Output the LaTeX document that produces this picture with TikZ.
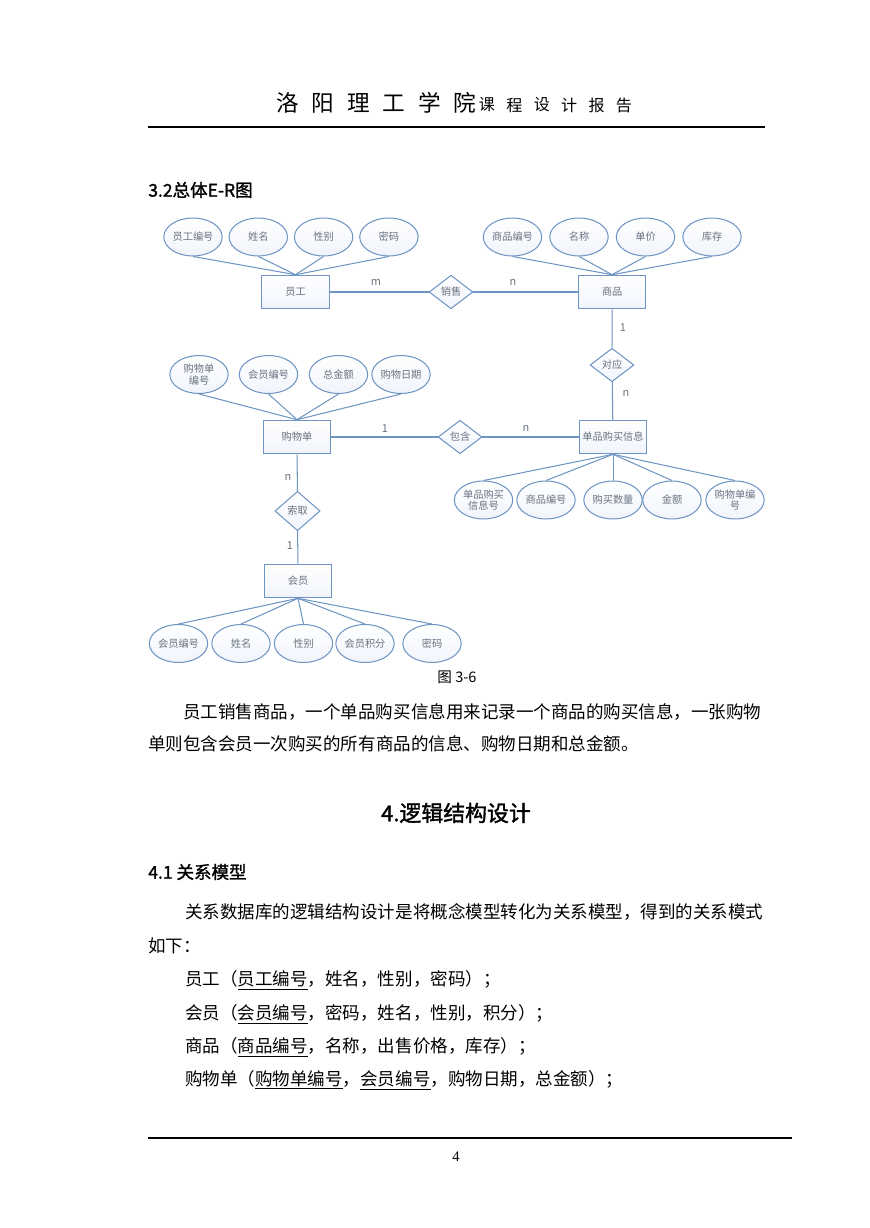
\documentclass[tikz,border=0pt]{standalone}
\usepackage{fontspec}
\setmainfont{Noto Sans CJK SC}
\newfontfamily\boldcjk{Noto Sans CJK SC}[FakeBold=1.5]
\newfontfamily\numfont{Liberation Serif}
\usetikzlibrary{shapes.geometric}
\definecolor{erline}{RGB}{110,148,196}
\definecolor{erfill}{RGB}{240,244,251}
\definecolor{ertext}{RGB}{105,115,130}
\tikzset{
  erfont/.style={text=ertext,font=\fontsize{7}{8}\selectfont},
  entity/.style={draw=erline,line width=.7pt,top color=white,bottom color=erfill,
    minimum width=46pt,minimum height=23pt,inner sep=0pt,erfont},
  attr/.style={ellipse,draw=erline,line width=.7pt,top color=white,bottom color=erfill,
    minimum width=40pt,minimum height=26pt,inner sep=0pt,align=center,erfont},
  rel/.style={diamond,draw=erline,line width=.7pt,top color=white,bottom color=erfill,
    minimum width=30pt,minimum height=23pt,inner sep=0pt,erfont},
  erconn/.style={erline,line width=.7pt},
  card/.style={text=ertext,font=\fontsize{7.5}{8}\selectfont,inner sep=0pt},
  bodytext/.style={anchor=west,inner sep=0pt,font=\fontsize{12}{14}\selectfont},
}
\begin{document}
\begin{tikzpicture}[x=0.685pt,y=-0.685pt]
  \fill[white](0,0) rectangle(869,1228);
  \useasboundingbox(0,0) rectangle(869,1228);
  % page head
  \foreach \c [count=\i] in {洛,阳,理,工,学,院}
    \node[inner sep=0pt,font=\fontsize{15.5}{15.5}\selectfont] at({287.5+35.5*(\i-1)},103){\c};
  \foreach \c [count=\i] in {课,程,设,计,报,告}
    \node[inner sep=0pt,font=\fontsize{11}{11}\selectfont] at({487+27.4*(\i-1)},105){\c};
  \draw[line width=.8pt](148,127)--(765,127);
  \node[bodytext,font=\fontsize{12}{14}\boldcjk] at(148,190){3.2总体E-R图};
  % entities and relations
  \node[entity] (yg) at(295.5,292){员工};
  \node[entity] (sp) at(612,292){商品};
  \node[rel] (xs) at(451,292){销售};
  \node[rel] (dy) at(612,365){对应};
  \node[entity] (dp) at(613,437){单品购买信息};
  \node[rel] (bh) at(460,437){包含};
  \node[entity] (gwd) at(297,437){购物单};
  \node[rel,minimum width=31pt,minimum height=27pt] (sq) at(297.5,511){索取};
  \node[entity] (hy) at(298,581){会员};
  % attributes
  \foreach \t [count=\i] in {员工编号,姓名,性别,密码}
    \node[attr] (ygA\i) at({193+65.3*(\i-1)},237){\t};
  \foreach \t [count=\i] in {商品编号,名称,单价,库存}
    \node[attr] (spA\i) at({512.5+66.5*(\i-1)},237){\t};
  \foreach \x/\t [count=\i] in {199/{购物单\\编号},268.5/会员编号,338.5/总金额,401/购物日期}
    \node[attr] (gwdA\i) at(\x,374.5){\t};
  \foreach \x/\t [count=\i] in {483.5/{单品购买\\信息号},546/商品编号,613/购买数量,672/金额,735/{购物单编\\号}}
    \node[attr] (dpA\i) at(\x,500){\t};
  \foreach \x/\t [count=\i] in {178.5/会员编号,241/姓名,303.5/性别,365/会员积分,432/密码}
    \node[attr] (hyA\i) at(\x,643.5){\t};
  \foreach \i in {1,...,4}{
    \draw[erconn](ygA\i.south)--(yg.north);
    \draw[erconn](spA\i.south)--(sp.north);
    \draw[erconn](gwdA\i.south)--(gwd.north);
  }
  \foreach \i in {1,...,5}{
    \draw[erconn](dp.south)--(dpA\i.north);
    \draw[erconn](hy.south)--(hyA\i.north);
  }
  % links
  \draw[erconn](yg)--(xs)--(sp);
  \draw[erconn](sp)--(dy)--(dp);
  \draw[erconn](gwd)--(bh)--(dp);
  \draw[erconn](gwd)--(sq)--(hy);
  \node[card] (c1) at(376,282){m};
  \node[card] (c2) at(513,282){n};
  \node[card] (c3) at(623,328){1};
  \node[card] (c4) at(626,393){n};
  \node[card] (c5) at(385,429){1};
  \node[card] (c6) at(526,428){n};
  \node[card] (c7) at(288,477){n};
  \node[card] (c8) at(290,546){1};
  \node[inner sep=0pt,font=\fontsize{10}{10}\selectfont] (cap) at(457,677){图 3-6};
  % text
  \node[bodytext] at(183,712){员工销售商品，一个单品购买信息用来记录一个商品的购买信息，一张购物};
  \node[bodytext] at(148,744){单则包含会员一次购买的所有商品的信息、购物日期和总金额。};
  \node[inner sep=0pt,font=\fontsize{15}{15}\boldcjk] at(456,813){4.逻辑结构设计};
  \node[bodytext,font=\fontsize{12}{14}\boldcjk] at(148,872){4.1 关系模型};
  \node[bodytext] at(185,912){关系数据库的逻辑结构设计是将概念模型转化为关系模型，得到的关系模式};
  \node[bodytext] at(148,946){如下：};
  \node[bodytext] at(185,980){员工（\underline{员工编号}，姓名，性别，密码）；};
  \node[bodytext] at(185,1014){会员（\underline{会员编号}，密码，姓名，性别，积分）；};
  \node[bodytext] at(185,1047){商品（\underline{商品编号}，名称，出售价格，库存）；};
  \node[bodytext] at(185,1080){购物单（\underline{购物单编号}，\underline{会员编号}，购物日期，总金额）；};
  % page foot
  \draw[line width=.8pt](148,1138)--(792,1138);
  \node[inner sep=0pt,font=\fontsize{10}{10}\numfont] at(456,1157){4};
\end{tikzpicture}
\end{document}
